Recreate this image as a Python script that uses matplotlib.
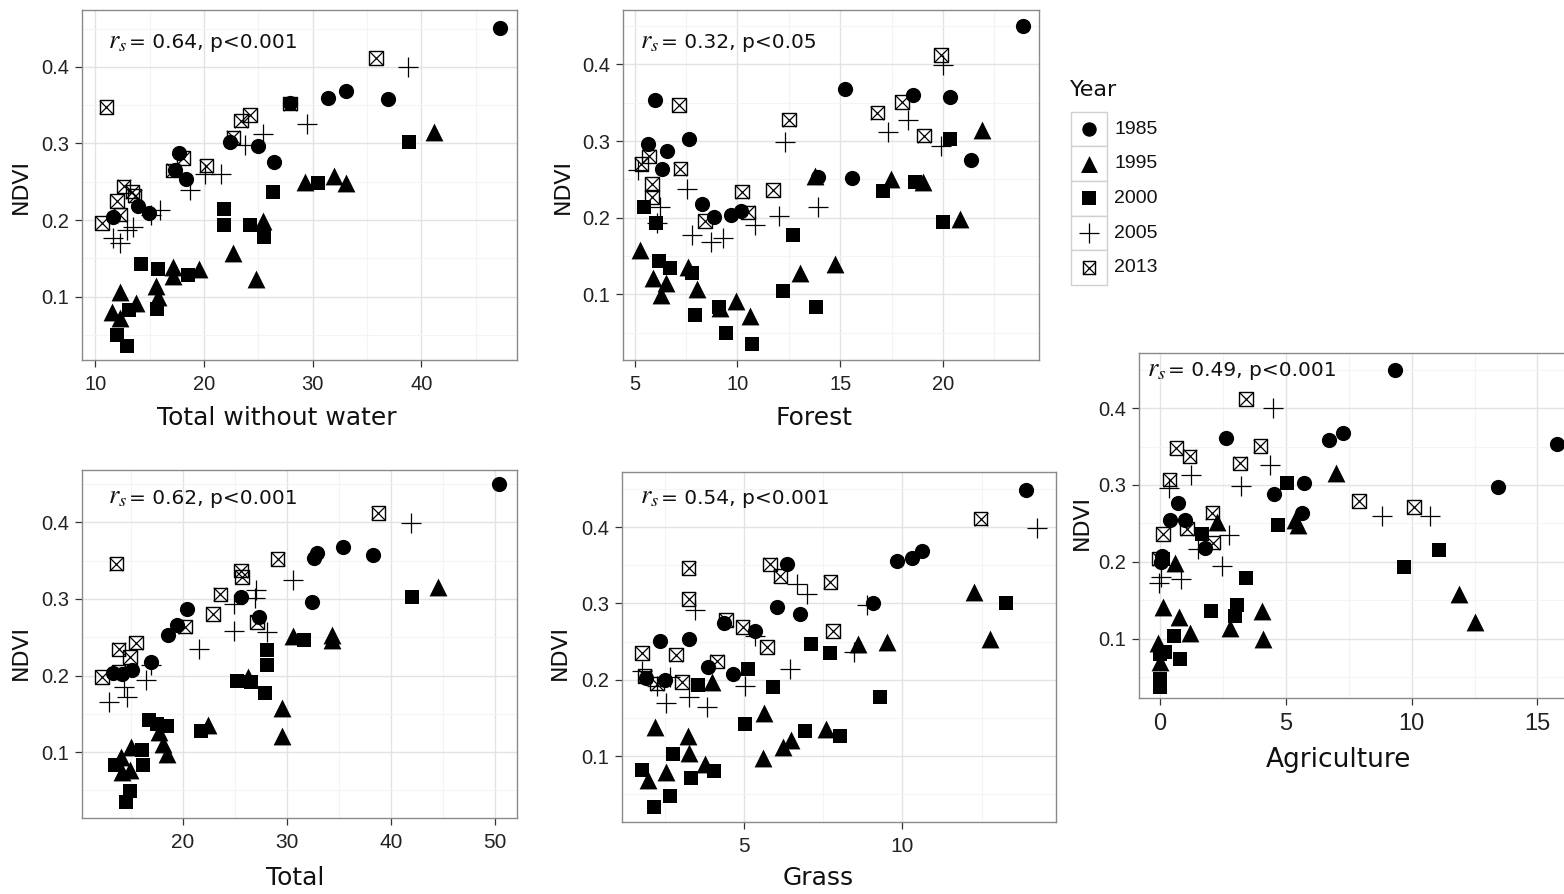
import matplotlib
matplotlib.use('Agg')
import matplotlib.pyplot as plt
from matplotlib.patches import Rectangle

W, H = 1564, 894
plt.rcParams['mathtext.fontset'] = 'stix'

YEARS = [1985, 1995, 2000, 2005, 2013]

# ---- Panel: Total without water ----
tww_1985 = [(27.9,0.353),(22.4,0.302),(25.0,0.297),(26.4,0.276),(17.7,0.287),(17.3,0.266),(18.3,0.253),
            (13.9,0.218),(14.9,0.209),(11.6,0.204),(31.4,0.360),(33.1,0.369),(36.9,0.358),(47.2,0.451)]
tww_1995 = [(29.3,0.250),(25.4,0.199),(22.7,0.157),(24.8,0.123),(17.1,0.139),(17.1,0.127),(19.5,0.136),
            (12.3,0.106),(11.5,0.080),(12.3,0.072),(13.7,0.091),(15.6,0.114),(15.8,0.100),(32.0,0.257),
            (33.1,0.248),(41.2,0.315)]
tww_2000 = [(26.3,0.236),(21.8,0.214),(21.8,0.194),(24.2,0.194),(25.5,0.178),(14.2,0.143),(15.8,0.136),
            (18.5,0.128),(13.1,0.082),(15.7,0.084),(12.0,0.050),(12.9,0.035),(30.5,0.248),(38.9,0.302)]
tww_2005 = [(29.5,0.326),(25.4,0.313),(23.8,0.298),(20.1,0.260),(21.6,0.260),(18.7,0.239),(15.9,0.213),
            (15.1,0.206),(13.5,0.191),(12.9,0.187),(11.6,0.176),(12.3,0.170),(38.8,0.400)]
tww_2013 = [(11.0,0.348),(27.9,0.352),(24.2,0.337),(23.4,0.330),(22.7,0.308),(20.2,0.271),(18.1,0.281),
            (17.1,0.265),(12.6,0.244),(13.4,0.237),(13.6,0.232),(12.0,0.225),(10.6,0.196),(12.3,0.207),
            (35.8,0.412)]

# ---- Panel: Forest ----
forest_1985 = [(5.97,0.354),(5.65,0.296),(6.59,0.287),(7.64,0.302),(6.33,0.264),(8.25,0.218),(8.86,0.201),
               (9.70,0.203),(10.19,0.209),(13.92,0.253),(15.25,0.368),(18.55,0.360),(20.33,0.357),
               (15.59,0.252),(21.34,0.275),(23.87,0.450)]
forest_1995 = [(5.28,0.158),(5.89,0.122),(6.54,0.115),(6.30,0.099),(7.59,0.136),(8.03,0.107),(9.14,0.082),
               (9.91,0.091),(10.63,0.072),(13.03,0.128),(14.73,0.140),(13.76,0.254),(17.49,0.251),
               (19.03,0.247),(21.90,0.315),(20.81,0.198)]
forest_2000 = [(5.44,0.214),(6.02,0.193),(6.18,0.143),(6.70,0.135),(7.81,0.128),(7.92,0.073),(9.09,0.083),
               (9.43,0.050),(10.73,0.036),(12.70,0.177),(12.22,0.104),(13.81,0.083),(17.08,0.235),
               (18.63,0.247),(20.36,0.302),(20.00,0.194)]
forest_2005 = [(5.16,0.262),(6.22,0.214),(6.09,0.193),(7.52,0.237),(7.81,0.177),(8.73,0.168),(9.30,0.173),
               (10.84,0.191),(12.02,0.202),(12.33,0.299),(13.92,0.214),(20.00,0.399),(18.30,0.327),
               (17.33,0.312),(19.92,0.294)]
forest_2013 = [(7.16,0.347),(12.51,0.328),(5.70,0.280),(5.33,0.270),(7.22,0.264),(5.84,0.244),(5.84,0.227),
               (10.22,0.234),(11.73,0.236),(8.41,0.196),(10.51,0.207),(19.89,0.412),(16.81,0.337),
               (18.01,0.351),(19.08,0.307)]

# ---- Panel: Agriculture ----
agri_1985 = [(2.62,0.361),(6.73,0.358),(7.28,0.368),(4.54,0.288),(5.72,0.302),(5.65,0.264),(0.73,0.276),
             (0.40,0.254),(0.99,0.254),(1.79,0.218),(0.09,0.207),(9.34,0.450),(13.44,0.297),(15.79,0.353),
             (0.05,0.200)]
agri_1995 = [(7.02,0.315),(5.36,0.254),(5.50,0.248),(2.28,0.252),(0.13,0.141),(0.77,0.128),(1.19,0.107),
             (2.78,0.114),(4.08,0.136),(4.10,0.100),(-0.07,0.094),(0.00,0.070),(0.60,0.198),(11.89,0.158),
             (12.51,0.122)]
agri_2000 = [(5.07,0.302),(4.68,0.248),(1.70,0.236),(3.42,0.179),(2.05,0.136),(3.07,0.144),(2.98,0.129),
             (0.57,0.104),(0.79,0.074),(0.20,0.083),(0.00,0.048),(0.00,0.037),(0.13,0.204),(11.10,0.215),
             (9.71,0.193),(0.00,0.080)]
agri_2005 = [(4.50,0.400),(4.37,0.326),(3.22,0.299),(1.26,0.313),(0.37,0.296),(2.74,0.235),(1.52,0.216),
             (2.49,0.194),(0.86,0.177),(-0.03,0.172),(0.07,0.180),(8.81,0.260),(10.75,0.260)]
agri_2013 = [(3.42,0.412),(0.66,0.348),(1.19,0.337),(4.00,0.351),(3.18,0.328),(0.40,0.307),(2.09,0.264),
             (1.08,0.243),(0.13,0.236),(2.12,0.225),(-0.03,0.204),(7.92,0.279),(10.09,0.271)]

# ---- Panel: Total ----
total_1985 = [(20.4,0.287),(19.4,0.266),(18.6,0.253),(25.6,0.302),(27.3,0.277),(16.9,0.218),(13.3,0.203),
              (14.1,0.202),(15.1,0.207),(32.4,0.296),(32.6,0.353),(32.9,0.360),(35.4,0.368),(38.3,0.357),
              (50.4,0.450)]
total_1995 = [(30.6,0.251),(26.3,0.198),(29.5,0.157),(29.5,0.121),(22.4,0.135),(17.7,0.126),(18.1,0.111),
              (18.5,0.098),(15.0,0.107),(14.0,0.093),(14.1,0.074),(14.9,0.076),(34.3,0.253),(34.3,0.246),
              (44.5,0.315)]
total_2000 = [(28.1,0.233),(28.1,0.214),(25.2,0.193),(26.5,0.191),(27.9,0.177),(16.7,0.142),(17.5,0.137),
              (18.5,0.134),(21.7,0.127),(16.1,0.103),(16.2,0.083),(13.5,0.083),(14.9,0.049),(14.5,0.035),
              (31.6,0.246),(42.0,0.302)]
total_2005 = [(30.6,0.325),(27.0,0.312),(26.9,0.301),(24.9,0.294),(24.9,0.258),(28.1,0.257),(21.5,0.235),
              (16.9,0.214),(16.4,0.194),(14.3,0.185),(12.9,0.166),(14.6,0.172),(41.9,0.399)]
total_2013 = [(13.6,0.346),(29.1,0.352),(25.6,0.337),(25.7,0.329),(23.6,0.306),(22.9,0.280),(20.2,0.264),
              (27.1,0.270),(15.5,0.243),(13.8,0.234),(14.9,0.224),(12.2,0.198),(13.8,0.205),(38.8,0.412)]

# ---- Panel: Grass ----
grass_1985 = [(6.35,0.352),(6.05,0.295),(6.75,0.286),(4.35,0.274),(5.33,0.264),(2.35,0.251),(3.26,0.253),
              (3.87,0.217),(4.66,0.207),(1.91,0.203),(2.51,0.200),(9.08,0.301),(9.82,0.356),(10.31,0.360),
              (10.61,0.368),(13.90,0.449)]
grass_1995 = [(2.17,0.138),(1.96,0.069),(2.54,0.079),(3.21,0.126),(3.24,0.104),(3.75,0.090),(3.98,0.197),
              (5.61,0.156),(5.58,0.098),(6.24,0.112),(6.48,0.121),(7.58,0.135),(8.61,0.247),(9.51,0.250),
              (12.26,0.315),(12.77,0.254)]
grass_2000 = [(1.77,0.082),(2.14,0.034),(2.64,0.048),(2.75,0.103),(3.33,0.071),(4.03,0.081),(3.54,0.193),
              (5.12,0.214),(5.03,0.142),(5.91,0.191),(6.93,0.133),(7.12,0.247),(7.72,0.235),(8.03,0.127),
              (9.29,0.177),(13.27,0.301)]
grass_2005 = [(1.77,0.212),(2.24,0.192),(2.54,0.169),(3.24,0.177),(3.45,0.291),(3.82,0.165),(5.03,0.192),
              (5.35,0.258),(6.45,0.214),(6.66,0.326),(6.98,0.312),(2.66,0.204),(8.48,0.236),(8.89,0.298),
              (14.26,0.399)]
grass_2013 = [(3.24,0.346),(3.24,0.306),(1.77,0.235),(2.85,0.233),(4.14,0.224),(4.43,0.278),(4.95,0.269),
              (5.72,0.243),(5.82,0.351),(6.14,0.336),(1.85,0.205),(2.24,0.195),(3.03,0.197),(7.72,0.328),
              (7.80,0.264),(12.47,0.411)]

panel_labels = ["Total without water", "Forest", "Agriculture", "Total", "Grass"]
panel_stats = ["0.64, p<0.001", "0.32, p<0.05", "0.49, p<0.001", "0.62, p<0.001", "0.54, p<0.001"]
y_ticks = [0.1, 0.2, 0.3, 0.4]
y_tick_labels = ["0.1", "0.2", "0.3", "0.4"]

TICK_COL = '#222222'
GRID_MAJ = '#E3E3E3'
GRID_MIN = '#F4F4F4'
BORDER = '#8A8A8A'

fig = plt.figure(figsize=(W / 100, H / 100), dpi=100)


def px_axes(l, t, r, b):
    return fig.add_axes([l / W, 1 - b / H, (r - l) / W, (b - t) / H])


def draw_year(ax, year, pts, scale=1.0):
    xs = [p[0] for p in pts]
    ys = [p[1] for p in pts]
    if year == 1985:
        ax.scatter(xs, ys, marker='o', s=120 * scale, c='black', linewidths=0, zorder=3)
    elif year == 1995:
        ax.scatter(xs, ys, marker='^', s=165 * scale, c='black', linewidths=0, zorder=3)
    elif year == 2000:
        ax.scatter(xs, ys, marker='s', s=100 * scale, c='black', linewidths=0, zorder=3)
    elif year == 2005:
        ax.scatter(xs, ys, marker='+', s=210 * scale, c='black', linewidths=0.9, zorder=3)
    else:
        ax.scatter(xs, ys, marker='s', s=95 * scale, facecolors='none', edgecolors='black',
                   linewidths=1.0, zorder=3)
        ax.scatter(xs, ys, marker='x', s=95 * scale, c='black', linewidths=0.9, zorder=3)


def make_panel(box, data, xlim, ylim, xticks, xminor, yminor, xlabel, stat,
               xlabel_c, ylabel_c, stat_pos, xtick_fs=14.5, xlabel_fs=18, hide_right=False):
    l, t, r, b = box
    ax = px_axes(l, t, r, b)
    ax.set_xlim(*xlim)
    ax.set_ylim(*ylim)
    ax.set_xticks(xticks)
    ax.set_xticks(xminor, minor=True)
    ax.set_yticks(y_ticks)
    ax.set_yticklabels(y_tick_labels)
    ax.set_yticks(yminor, minor=True)
    ax.grid(True, which='major', color=GRID_MAJ, lw=1.0, zorder=0)
    ax.grid(True, which='minor', color=GRID_MIN, lw=0.8, zorder=0)
    ax.set_axisbelow(True)
    for sp in ax.spines.values():
        sp.set_color(BORDER)
        sp.set_linewidth(1.0)
    if hide_right:
        ax.spines['right'].set_visible(False)
    ax.tick_params(which='major', direction='out', length=5, width=0.9, color='#333333',
                   labelcolor=TICK_COL)
    ax.tick_params(which='minor', length=0)
    ax.tick_params(axis='x', labelsize=xtick_fs, pad=5.5)
    ax.tick_params(axis='y', labelsize=14.5, pad=4.5)
    for lab in ax.get_xticklabels() + ax.get_yticklabels():
        lab.set_fontfamily('Liberation Sans')
    for yr, pts in zip(YEARS, data):
        draw_year(ax, yr, pts)
    w, h = r - l, b - t
    ax.set_xlabel(xlabel, fontsize=xlabel_fs, fontfamily='DejaVu Sans', color='#111111')
    ax.xaxis.label.set_va('center')
    ax.xaxis.set_label_coords((xlabel_c[0] - l) / w, (b - xlabel_c[1]) / h)
    ax.set_ylabel('NDVI', fontsize=16, fontfamily='DejaVu Sans', color='#111111')
    ax.yaxis.label.set_va('center')
    ax.yaxis.set_label_coords((ylabel_c[0] - l) / w, (b - ylabel_c[1]) / h)
    base_y = (b - (stat_pos[1] + 6.5)) / h
    ax.text((stat_pos[0] - l) / w, base_y, r'$r_s$', transform=ax.transAxes,
            ha='left', va='baseline', fontsize=19, color='#111111')
    ax.text((stat_pos[0] + 21 - l) / w, base_y, '= ' + stat,
            transform=ax.transAxes, ha='left', va='baseline', fontsize=14.5,
            fontfamily='DejaVu Sans', color='#111111')
    return ax


ymin05 = [0.05, 0.15, 0.25, 0.35, 0.45]

make_panel((82, 10, 517, 360), [tww_1985, tww_1995, tww_2000, tww_2005, tww_2013],
           (8.76, 48.8), (0.017, 0.4745), [10, 20, 30, 40], [15, 25, 35, 45], ymin05,
           panel_labels[0], panel_stats[0], (277, 418), (21, 187), (108, 42))

make_panel((623, 10, 1039, 360), [forest_1985, forest_1995, forest_2000, forest_2005, forest_2013],
           (4.43, 24.67), (0.0145, 0.4708), [5, 10, 15, 20], [7.5, 12.5, 17.5, 22.5], ymin05,
           panel_labels[1], panel_stats[1], (814, 418), (563, 187), (640, 42))

make_panel((1139, 353, 1572, 698), [agri_1985, agri_1995, agri_2000, agri_2005, agri_2013],
           (-0.82, 16.37), (0.0227, 0.4717), [0, 5, 10, 15], [2.5, 7.5, 12.5], ymin05,
           panel_labels[2], panel_stats[2], (1338, 760), (1082, 522), (1147, 370),
           xtick_fs=17, xlabel_fs=19, hide_right=True)

make_panel((82, 470, 517, 818), [total_1985, total_1995, total_2000, total_2005, total_2013],
           (10.29, 52.12), (0.0139, 0.4684), [20, 30, 40, 50], [15, 25, 35, 45], ymin05,
           panel_labels[3], panel_stats[3], (295, 878), (21, 652), (108, 497),
           xtick_fs=15)

make_panel((622, 472, 1056, 822), [grass_1985, grass_1995, grass_2000, grass_2005, grass_2013],
           (1.138, 14.85), (0.0139, 0.472), [5, 10], [2.5, 7.5, 12.5], ymin05,
           panel_labels[4], panel_stats[4], (818, 878), (560, 652), (640, 497),
           xtick_fs=15)

# ---- Legend ----
lg = fig.add_axes([0, 0, 1, 1])
lg.set_xlim(0, W)
lg.set_ylim(H, 0)
lg.set_axis_off()
lg.text(1070, 90, 'Year', fontsize=16, fontfamily='DejaVu Sans', ha='left', va='center', color='#111111')
row_h = 34.7
for i, yr in enumerate(YEARS):
    cy = 129 + i * row_h
    lg.add_patch(Rectangle((1071, cy - row_h / 2), 36, row_h, facecolor='white',
                           edgecolor='#D0D0D0', lw=1.0))
    draw_year(lg, yr, [(1089, cy)], scale=0.9)
    lg.text(1114, cy, str(yr), fontsize=14, fontfamily='Liberation Sans', ha='left', va='center',
            color='#111111')

fig.savefig('out.png', dpi=100)
